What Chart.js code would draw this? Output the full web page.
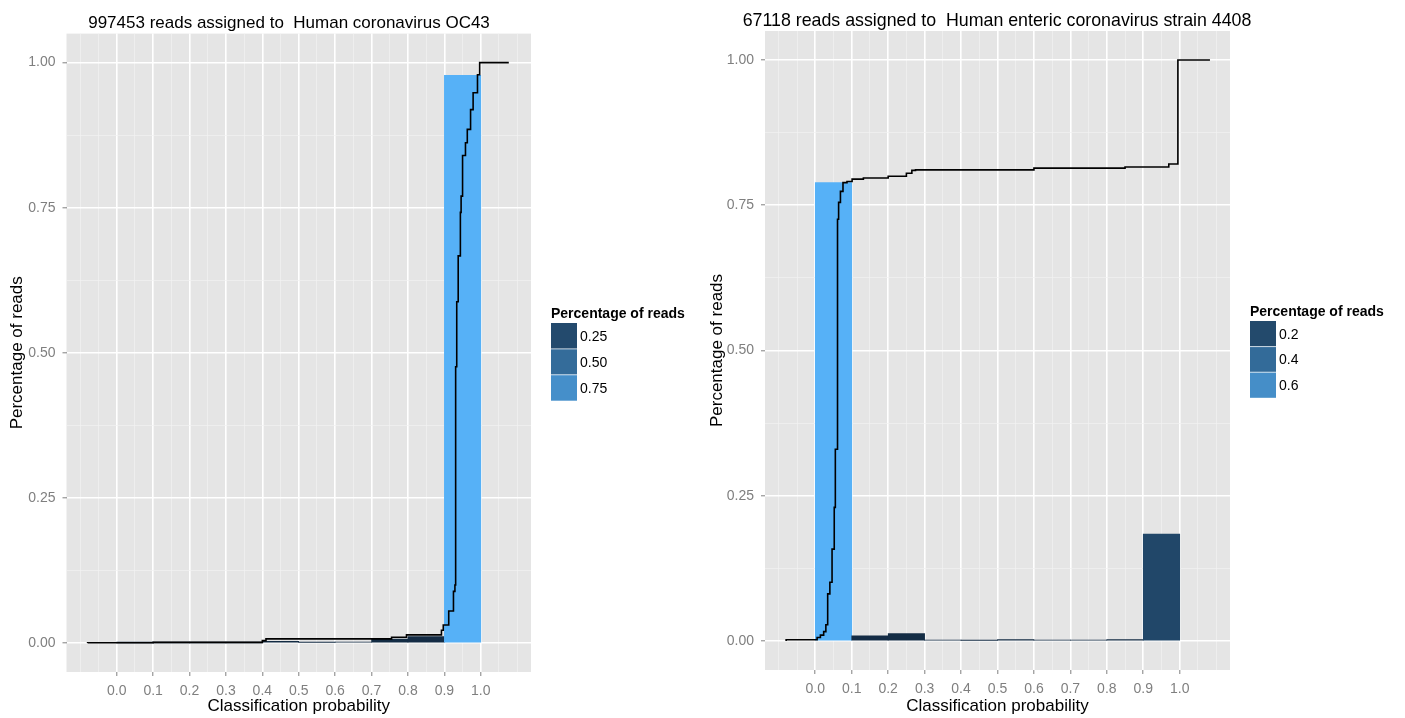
<!doctype html>
<html lang="en">
<head>
<meta charset="utf-8" />
<title>Classification probability</title>
<script src="https://cdn.jsdelivr.net/npm/chart.js@4.4.1/dist/chart.umd.min.js"></script>
<style>
  body { margin: 0; background: #fff; }
  .wrap { position: absolute; top: 0; height: 718px; }
</style>
</head>
<body>
<div class="wrap" style="left:0;width:700px"><canvas id="chartLeft" width="700" height="718"></canvas></div>
<div class="wrap" style="left:700px;width:705px"><canvas id="chartRight" width="705" height="718"></canvas></div>

<script>
// histogram bin centres (bin width 0.1), shared by both panels
const binCenters = [0.05, 0.15, 0.25, 0.35, 0.45, 0.55, 0.65, 0.75, 0.85, 0.95];
const binWidth = 0.1;

// left panel: Human coronavirus OC43
const leftTitle = '997453 reads assigned to  Human coronavirus OC43';
const leftBars = [0.0002, 0.0003, 0.0003, 0.0003, 0.003, 0.0008, 0.0015, 0.0069, 0.0112, 0.978];
const leftCdfX = [-0.08, 0.10, 0.40, 0.41, 0.755, 0.796, 0.892, 0.897, 0.912, 0.925, 0.929, 0.931, 0.934,
                  0.938, 0.944, 0.946, 0.950, 0.958, 0.963, 0.972, 0.979, 0.991, 0.997, 1.000, 1.077];
const leftCdfY = [0, 0.0004, 0.001, 0.004, 0.007, 0.010, 0.014, 0.022, 0.031, 0.055, 0.089, 0.10, 0.476,
                  0.588, 0.667, 0.742, 0.77, 0.84, 0.862, 0.885, 0.919, 0.948, 0.979, 1.0, 1.0];
const leftLegendValues = [0.25, 0.50, 0.75];
const leftLegendLabels = ['0.25', '0.50', '0.75'];

// right panel: Human enteric coronavirus strain 4408
const rightTitle = '67118 reads assigned to  Human enteric coronavirus strain 4408';
const rightBars = [0.789, 0.009, 0.0126, 0.0012, 0.001, 0.0023, 0.0012, 0.0012, 0.0023, 0.184];
const rightCdfX = [-0.08, 0.005, 0.014, 0.023, 0.029, 0.034, 0.040, 0.046, 0.052, 0.055, 0.061, 0.064, 0.069,
                   0.076, 0.087, 0.101, 0.132, 0.20, 0.25, 0.265, 0.275, 0.60, 0.85, 0.97, 0.995, 1.000, 1.083];
const rightCdfY = [0, 0.002, 0.006, 0.010, 0.016, 0.028, 0.081, 0.101, 0.158, 0.230, 0.33, 0.726, 0.755,
                   0.774, 0.789, 0.791, 0.795, 0.797, 0.800, 0.805, 0.810, 0.811, 0.814, 0.816, 0.821, 1.0, 1.0];
const rightLegendValues = [0.2, 0.4, 0.6];
const rightLegendLabels = ['0.2', '0.4', '0.6'];

const xAxisTitle = 'Classification probability';
const yAxisTitle = 'Percentage of reads';
const legendTitle = 'Percentage of reads';

const X_MIN = -0.138, X_MAX = 1.138;
const FONT = "'Liberation Sans', Arial, Helvetica, sans-serif";
Chart.defaults.font.family = FONT;

// ggplot's default continuous fill: #132B43 -> #56B1F7, interpolated in Lab
function hexToRgb(h) { return [1, 3, 5].map(i => parseInt(h.substr(i, 2), 16)); }
function rgbToLab(c) {
  const lin = c.map(v => { v /= 255; return v <= 0.04045 ? v / 12.92 : Math.pow((v + 0.055) / 1.055, 2.4); });
  const x = (0.4124 * lin[0] + 0.3576 * lin[1] + 0.1805 * lin[2]) / 0.95047;
  const y = 0.2126 * lin[0] + 0.7152 * lin[1] + 0.0722 * lin[2];
  const z = (0.0193 * lin[0] + 0.1192 * lin[1] + 0.9505 * lin[2]) / 1.08883;
  const f = t => t > 0.008856 ? Math.cbrt(t) : 7.787 * t + 16 / 116;
  return [116 * f(y) - 16, 500 * (f(x) - f(y)), 200 * (f(y) - f(z))];
}
function labToRgb([L, a, b]) {
  const fy = (L + 16) / 116, fx = fy + a / 500, fz = fy - b / 200;
  const inv = t => t * t * t > 0.008856 ? t * t * t : (t - 16 / 116) / 7.787;
  const x = inv(fx) * 0.95047, y = inv(fy), z = inv(fz) * 1.08883;
  const r = 3.2406 * x - 1.5372 * y - 0.4986 * z;
  const g = -0.9689 * x + 1.8758 * y + 0.0415 * z;
  const bl = 0.0557 * x - 0.2040 * y + 1.0570 * z;
  return [r, g, bl].map(v => {
    v = v <= 0.0031308 ? 12.92 * v : 1.055 * Math.pow(v, 1 / 2.4) - 0.055;
    return Math.round(Math.min(1, Math.max(0, v)) * 255);
  });
}
const lowLab = rgbToLab(hexToRgb('#132B43'));
const highLab = rgbToLab(hexToRgb('#56B1F7'));
function fillColour(v, lo, hi) {
  const t = (v - lo) / (hi - lo);
  const [r, g, b] = labToRgb(lowLab.map((l, i) => l + (highLab[i] - l) * t));
  return `rgb(${r},${g},${b})`;
}

// grid positions: majors every 0.1 (x) / 0.25 (y), minors in between
const xGrid = [];
for (let i = -2; i <= 22; i++) xGrid.push(+(i * 0.05).toFixed(2));
const yGrid = [];
for (let i = 0; i <= 8; i++) yGrid.push(i * 0.125);
const isMajorX = v => v > -1e-9 && v < 1 + 1e-9 && Math.abs(v * 10 - Math.round(v * 10)) < 1e-6;
const isMajorY = v => Math.abs(v * 4 - Math.round(v * 4)) < 1e-6;

const panelBackground = {
  id: 'panelBackground',
  beforeDraw(chart) {
    const a = chart.chartArea, ctx = chart.ctx;
    ctx.save();
    ctx.fillStyle = '#e5e5e5';
    ctx.fillRect(a.left, a.top, a.right - a.left, a.bottom - a.top);
    ctx.restore();
  }
};

function titlePlugin(text, lay) {
  return {
    id: 'ggTitle',
    afterDraw(chart) {
      const ctx = chart.ctx;
      ctx.save();
      ctx.font = `${lay.titleSize}px ${FONT}`;
      ctx.fillStyle = '#000';
      ctx.textAlign = 'center';
      ctx.textBaseline = 'alphabetic';
      ctx.fillText(text, lay.titleX, lay.titleBaseline);
      ctx.restore();
    }
  };
}

function legendPlugin(values, labels, lo, hi, lay) {
  return {
    id: 'ggLegend',
    afterDraw(chart) {
      const ctx = chart.ctx, k = lay.keySize;
      ctx.save();
      ctx.fillStyle = '#000';
      ctx.textAlign = 'left';
      ctx.textBaseline = 'alphabetic';
      ctx.font = `bold 14px ${FONT}`;
      ctx.fillText(legendTitle, lay.legendX, lay.legendTitleBaseline);
      values.forEach((v, i) => {
        const y = lay.legendTop + i * k;
        ctx.fillStyle = fillColour(v, lo, hi);
        ctx.fillRect(lay.legendX, y, 26, k);
        ctx.fillStyle = '#000';
        ctx.font = `14px ${FONT}`;
        ctx.textBaseline = 'middle';
        ctx.fillText(labels[i], lay.legendX + 29, y + k / 2 + 1);
        if (i > 0) {
          ctx.fillStyle = 'rgba(255,255,255,0.7)';
          ctx.fillRect(lay.legendX, y - 0.5, 26, 1);
        }
      });
      ctx.restore();
    }
  };
}

function buildChart(id, title, bars, cdfX, cdfY, legendValues, legendLabels, lay) {
  const canvas = document.getElementById(id);
  const W = canvas.width, H = canvas.height;
  const lo = Math.min(...bars), hi = Math.max(...bars);
  // bar width in pixels = one bin on the x scale
  const barPx = (lay.right - lay.left) / (X_MAX - X_MIN) * binWidth;
  return new Chart(canvas, {
    type: 'bar',
    data: {
      datasets: [
        {
          type: 'line',
          data: cdfX.map((x, i) => ({ x: x, y: cdfY[i] })),
          stepped: 'after',
          borderColor: '#000',
          borderWidth: 1.6,
          pointRadius: 0,
          fill: false,
          order: 0
        },
        {
          type: 'bar',
          data: binCenters.map((x, i) => ({ x: x, y: bars[i] })),
          backgroundColor: bars.map(v => fillColour(v, lo, hi)),
          borderWidth: 0,
          barThickness: barPx,
          order: 1
        }
      ]
    },
    options: {
      responsive: false,
      animation: false,
      devicePixelRatio: 1,
      layout: { padding: { left: 0, top: lay.top, right: W - lay.right, bottom: 0 } },
      plugins: { legend: { display: false }, tooltip: { enabled: false }, title: { display: false } },
      scales: {
        x: {
          type: 'linear',
          min: X_MIN,
          max: X_MAX,
          offset: false,
          afterBuildTicks: s => { s.ticks = xGrid.map(v => ({ value: v })); },
          afterFit: s => { s.height = H - lay.bottom; },
          border: { display: false },
          grid: {
            offset: false,
            color: c => isMajorX(c.tick.value) ? '#ffffff' : '#f2f2f2',
            lineWidth: c => isMajorX(c.tick.value) ? 1.6 : 0.7,
            tickColor: c => isMajorX(c.tick.value) ? '#7f7f7f' : 'rgba(0,0,0,0)',
            tickLength: 4,
            tickWidth: 1
          },
          ticks: {
            autoSkip: false,
            maxRotation: 0,
            padding: 7,
            color: '#7f7f7f',
            font: { size: 14 },
            callback: v => isMajorX(v) ? v.toFixed(1) : ''
          },
          title: { display: true, text: xAxisTitle, color: '#000', font: { size: 17 }, padding: { top: 0, bottom: 1 } }
        },
        y: {
          min: -0.05,
          max: 1.05,
          afterBuildTicks: s => { s.ticks = yGrid.map(v => ({ value: v })); },
          afterFit: s => { s.width = lay.left; },
          border: { display: false },
          grid: {
            color: c => isMajorY(c.tick.value) ? '#ffffff' : '#f2f2f2',
            lineWidth: c => isMajorY(c.tick.value) ? 1.6 : 0.7,
            tickColor: c => isMajorY(c.tick.value) ? '#7f7f7f' : 'rgba(0,0,0,0)',
            tickLength: 4,
            tickWidth: 1
          },
          ticks: {
            autoSkip: false,
            padding: 7,
            color: '#7f7f7f',
            font: { size: 14 },
            callback: v => isMajorY(v) ? v.toFixed(2) : ''
          },
          title: { display: true, text: yAxisTitle, color: '#000', font: { size: 17 }, padding: { top: 7, bottom: 0 } }
        }
      }
    },
    plugins: [panelBackground, titlePlugin(title, lay), legendPlugin(legendValues, legendLabels, lo, hi, lay)]
  });
}

buildChart('chartLeft', leftTitle, leftBars, leftCdfX, leftCdfY, leftLegendValues, leftLegendLabels, {
  left: 66.5, right: 531, top: 33.6, bottom: 672,
  titleX: 289, titleBaseline: 28, titleSize: 17,
  legendX: 551, legendTitleBaseline: 318, legendTop: 323, keySize: 25.9
});

buildChart('chartRight', rightTitle, rightBars, rightCdfX, rightCdfY, rightLegendValues, rightLegendLabels, {
  left: 65, right: 530, top: 31, bottom: 670,
  titleX: 297, titleBaseline: 26, titleSize: 17.8,
  legendX: 550, legendTitleBaseline: 316, legendTop: 321, keySize: 25.6
});
</script>
</body>
</html>
